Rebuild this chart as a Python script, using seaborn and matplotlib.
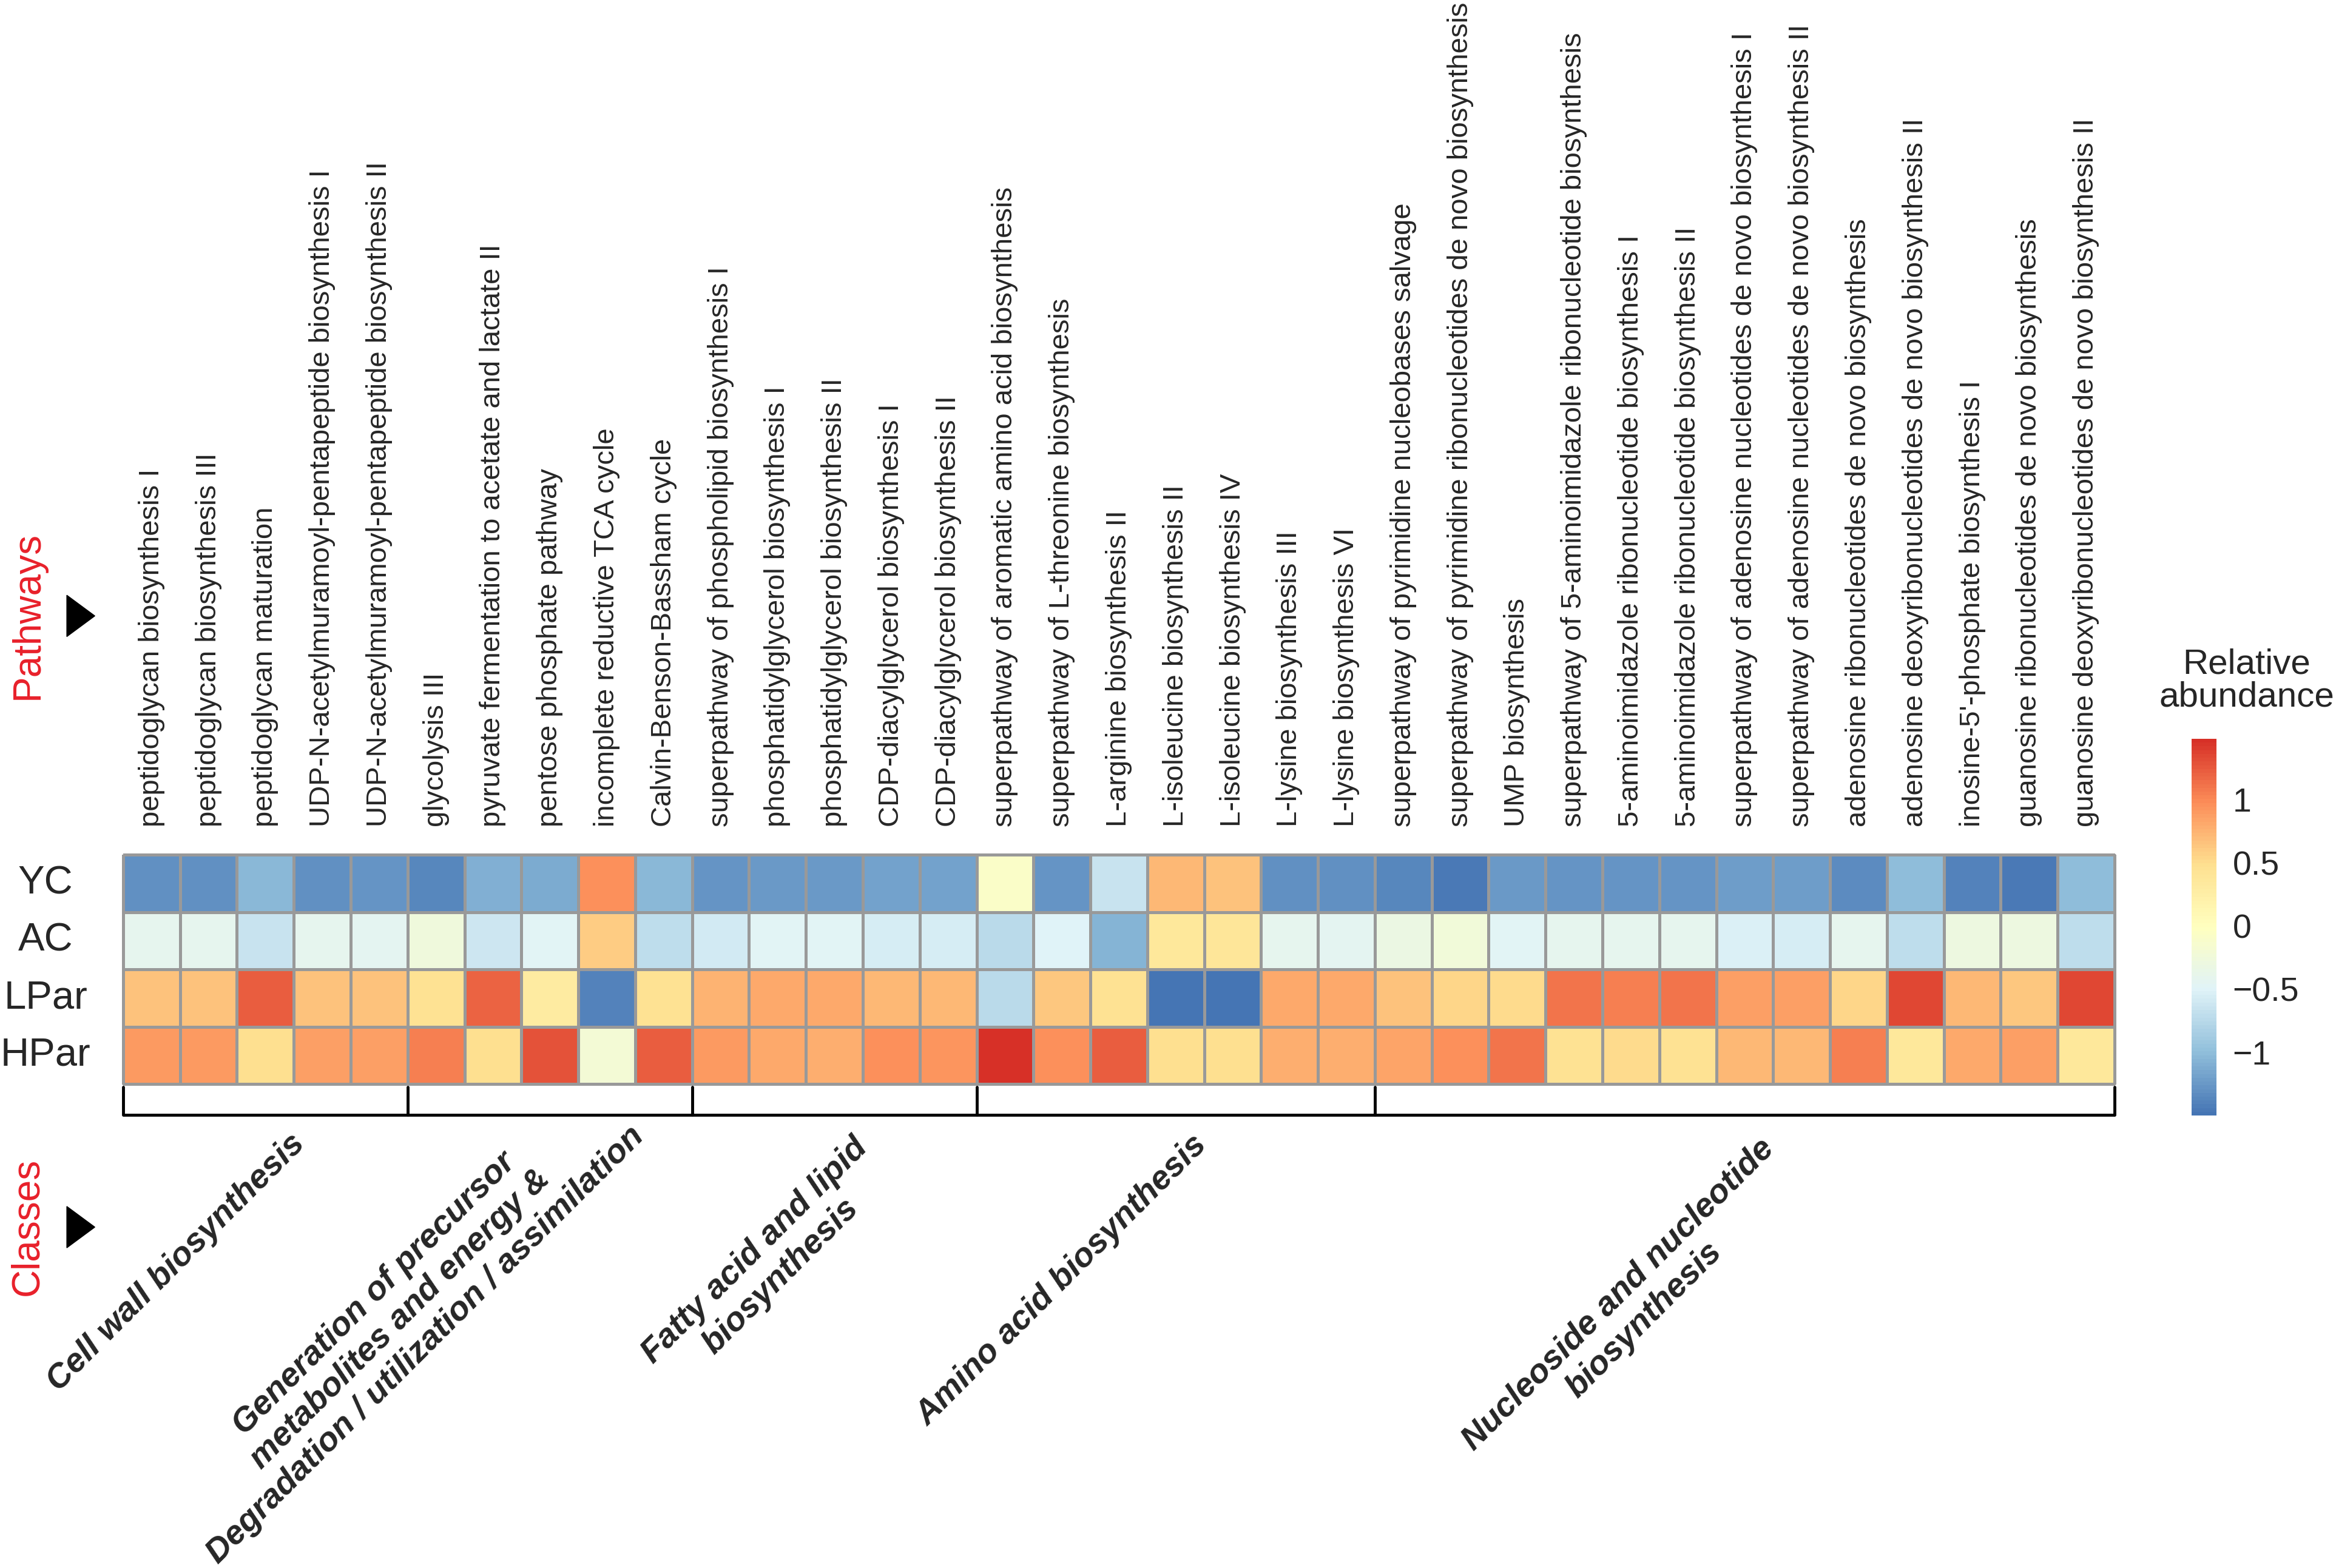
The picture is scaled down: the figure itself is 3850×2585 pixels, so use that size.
import numpy as np
import pandas as pd
import matplotlib
matplotlib.use("Agg")
import matplotlib.pyplot as plt
import seaborn as sns
from matplotlib.colors import LinearSegmentedColormap
from matplotlib.patches import Polygon

# --- Data ---
groups = ["YC", "AC", "LPar", "HPar"]

pathways = [
    "peptidoglycan biosynthesis I",
    "peptidoglycan biosynthesis III",
    "peptidoglycan maturation",
    "UDP-N-acetylmuramoyl-pentapeptide biosynthesis I",
    "UDP-N-acetylmuramoyl-pentapeptide biosynthesis II",
    "glycolysis III",
    "pyruvate fermentation to acetate and lactate II",
    "pentose phosphate pathway",
    "incomplete reductive TCA cycle",
    "Calvin-Benson-Bassham cycle",
    "superpathway of phospholipid biosynthesis I",
    "phosphatidylglycerol biosynthesis I",
    "phosphatidylglycerol biosynthesis II",
    "CDP-diacylglycerol biosynthesis I",
    "CDP-diacylglycerol biosynthesis II",
    "superpathway of aromatic amino acid biosynthesis",
    "superpathway of L-threonine biosynthesis",
    "L-arginine biosynthesis II",
    "L-isoleucine biosynthesis II",
    "L-isoleucine biosynthesis IV",
    "L-lysine biosynthesis III",
    "L-lysine biosynthesis VI",
    "superpathway of pyrimidine nucleobases salvage",
    "superpathway of pyrimidine ribonucleotides de novo biosynthesis",
    "UMP biosynthesis",
    "superpathway of 5-aminoimidazole ribonucleotide biosynthesis",
    "5-aminoimidazole ribonucleotide biosynthesis I",
    "5-aminoimidazole ribonucleotide biosynthesis II",
    "superpathway of adenosine nucleotides de novo biosynthesis I",
    "superpathway of adenosine nucleotides de novo biosynthesis II",
    "adenosine ribonucleotides de novo biosynthesis",
    "adenosine deoxyribonucleotides de novo biosynthesis II",
    "inosine-5'-phosphate biosynthesis I",
    "guanosine ribonucleotides de novo biosynthesis",
    "guanosine deoxyribonucleotides de novo biosynthesis II",
]

yc = [-1.30, -1.30, -1.05, -1.32, -1.27, -1.38, -1.10, -1.12, 0.95, -1.05,
      -1.27, -1.25, -1.25, -1.20, -1.20, -0.08, -1.28, -0.65, 0.72, 0.65,
      -1.30, -1.30, -1.37, -1.45, -1.25, -1.27, -1.27, -1.27, -1.23, -1.23,
      -1.35, -1.00, -1.40, -1.45, -1.02]
ac = [-0.40, -0.40, -0.65, -0.40, -0.45, -0.25, -0.62, -0.48, 0.60, -0.72,
      -0.60, -0.47, -0.47, -0.55, -0.55, -0.75, -0.50, -1.08, 0.35, 0.40,
      -0.42, -0.43, -0.33, -0.22, -0.47, -0.42, -0.42, -0.40, -0.52, -0.57,
      -0.42, -0.70, -0.30, -0.28, -0.70]
lpar = [0.65, 0.65, 1.22, 0.65, 0.65, 0.45, 1.20, 0.30, -1.40, 0.45,
        0.75, 0.80, 0.80, 0.72, 0.72, -0.73, 0.62, 0.45, -1.50, -1.50,
        0.82, 0.82, 0.67, 0.55, 0.52, 1.10, 1.05, 1.12, 0.88, 0.88,
        0.55, 1.35, 0.73, 0.63, 1.35]
hpar = [0.90, 0.90, 0.47, 0.88, 0.88, 1.05, 0.47, 1.30, -0.20, 1.22,
        0.90, 0.80, 0.77, 0.95, 0.93, 1.48, 0.97, 1.22, 0.47, 0.47,
        0.78, 0.78, 0.83, 0.95, 1.10, 0.46, 0.52, 0.46, 0.73, 0.73,
        1.05, 0.35, 0.80, 0.87, 0.37]

class_names = [
    "Cell wall biosynthesis",
    "Generation of precursor\nmetabolites and energy &\nDegradation / utilization / assimilation",
    "Fatty acid and lipid\nbiosynthesis",
    "Amino acid biosynthesis",
    "Nucleoside and nucleotide\nbiosynthesis",
]
class_sizes = [5, 5, 5, 7, 13]

cbar_ticks = [-1, -0.5, 0, 0.5, 1]
cbar_ticklabels = ["\u22121", "\u22120.5", "0", "0.5", "1"]

# label anchor points (heatmap data coords)
class_label_xy = [(0.93, 7.12), (4.87, 8.11), (11.33, 7.14), (16.5, 7.44), (26.5, 7.9)]

# --- Style ---
sns.set_style("white")
plt.rcParams["font.family"] = ["Liberation Sans", "DejaVu Sans"]
red = "#e8202a"

df = pd.DataFrame([yc, ac, lpar, hpar], index=groups, columns=pathways)

# pheatmap-like palette (reversed RdYlBu, 7 colours)
heat_colors = ["#4575B4", "#91BFDB", "#E0F3F8", "#FFFFBF", "#FEE090", "#FC8D59", "#D73027"]
cmap = LinearSegmentedColormap.from_list("pheat", heat_colors, N=100)

fig = plt.figure(figsize=(38.5, 25.85), dpi=100)
ax = fig.add_axes([0.0527, 0.3087, 0.8525, 0.1462])
cax = fig.add_axes([0.9382, 0.2886, 0.01065, 0.2402])

sns.heatmap(
    df,
    ax=ax,
    cbar_ax=cax,
    cmap=cmap,
    vmin=-1.5,
    vmax=1.48,
    linewidths=2.2,
    linecolor="#999999",
    cbar_kws={"ticks": cbar_ticks},
)
ax.collections[0].set_clip_on(False)

# pathway labels on top
ax.xaxis.tick_top()
ax.set_xticks(np.arange(len(pathways)) + 0.5)
ax.set_xticklabels(pathways, rotation=90, fontsize=34)
ax.tick_params(axis="x", length=0, pad=33, top=True, labeltop=True, bottom=False, labelbottom=False)

ax.set_yticklabels(groups, rotation=0, fontsize=47, ha="center")
ax.tick_params(axis="y", length=0, pad=92)
ax.set_xlabel("")
ax.set_ylabel("")

# colorbar
cax.set_yticklabels(cbar_ticklabels)
cax.tick_params(length=0, pad=19, labelsize=40)
fig.text(0.9617, 0.5656, "Relative\nabundance", ha="center", va="center", fontsize=42, linespacing=1.0)

# class bracket
bounds = np.concatenate([[0], np.cumsum(class_sizes)])
ax.plot([bounds[0], bounds[-1]], [4.54, 4.54], color="black", lw=3.5, clip_on=False, solid_capstyle="butt")
for b in bounds:
    ax.plot([b, b], [4.05, 4.54], color="black", lw=3.5, clip_on=False)

for name, (x, y) in zip(class_names, class_label_xy):
    ax.text(x, y, name, rotation=45, rotation_mode="anchor", ha="center", va="center",
            multialignment="center", fontsize=40, fontweight="bold", fontstyle="italic",
            clip_on=False)

# side headings with arrow heads
fig.text(0.012, 0.6074, "Pathways", rotation=90, color=red, fontsize=46, ha="center", va="center")
fig.text(0.0118, 0.2178, "Classes", rotation=90, color=red, fontsize=46, ha="center", va="center")
for yc_ in [0.6072, 0.2174]:
    tri = Polygon([[0.0286, yc_ + 0.0132], [0.0286, yc_ - 0.0132], [0.0406, yc_]],
                  closed=True, transform=fig.transFigure, color="black")
    fig.add_artist(tri)

fig.savefig("out.png", dpi=100)
